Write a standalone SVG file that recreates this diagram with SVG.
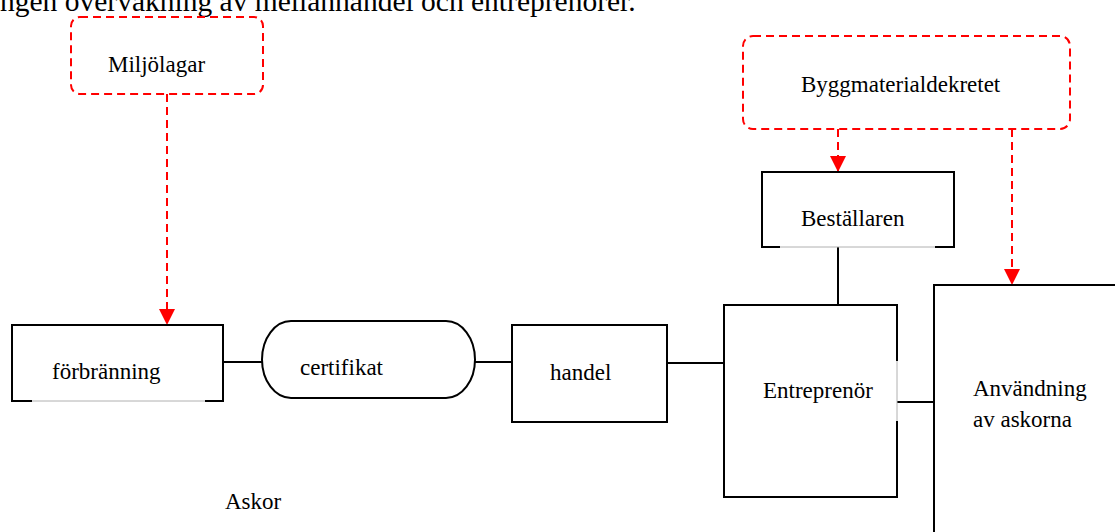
<svg xmlns="http://www.w3.org/2000/svg" width="1115" height="532" viewBox="0 0 1115 532">
  <style>
    text { font-family: "Liberation Serif", "Times New Roman", serif; font-size: 23px; fill: #000; }
    .title { font-size: 29.5px; }
    .box { fill: #fff; stroke: #000; stroke-width: 2; }
    .thin { stroke: #b0b0b0; stroke-width: 1; fill: none; }
    .law { fill: #fff; stroke: #ff0000; stroke-width: 2; stroke-dasharray: 8 5; }
    .link { stroke: #000; stroke-width: 2; fill: none; }
    .dep { stroke: #ff0000; stroke-width: 2; stroke-dasharray: 8 5; fill: none; }
  </style>
  <defs>
    <marker id="redArrow" viewBox="0 0 16 16" markerWidth="16" markerHeight="16" refX="16" refY="8" orient="auto" markerUnits="userSpaceOnUse">
      <path d="M0,0 L16,8 L0,16 Z" fill="#ff0000"/>
    </marker>
  </defs>

  <text class="title" x="0" y="11">ngen övervakning av mellanhandel och entreprenörer.</text>

  <!-- connectors -->
  <g id="connectors">
    <line class="link" x1="223" y1="362" x2="262" y2="362"/>
    <line class="link" x1="475" y1="362" x2="512" y2="362"/>
    <line class="link" x1="667" y1="363" x2="724" y2="363"/>
    <line class="link" x1="838" y1="247" x2="838" y2="305"/>
    <line class="link" x1="897" y1="402" x2="934" y2="402"/>
    <line class="dep" x1="167" y1="94" x2="167" y2="325" marker-end="url(#redArrow)"/>
    <line class="dep" x1="838" y1="129" x2="838" y2="172" marker-end="url(#redArrow)"/>
    <line class="dep" x1="1012" y1="129" x2="1012" y2="285" marker-end="url(#redArrow)"/>
  </g>

  <g id="miljolagar">
    <rect class="law" x="71" y="17" width="192" height="77" rx="9"/>
    <text x="108" y="72">Miljölagar</text>
  </g>

  <g id="byggmaterialdekretet">
    <rect class="law" x="743" y="36" width="327" height="93" rx="10"/>
    <text x="801" y="92">Byggmaterialdekretet</text>
  </g>

  <g id="forbranning">
    <path class="box" d="M32,401 L12,401 L12,325 L223,325 L223,401 L205,401"/>
    <line class="thin" x1="32" y1="401" x2="205" y2="401"/>
    <text x="52" y="379">förbränning</text>
  </g>

  <g id="certifikat">
    <path class="box" d="M291,321 L446,321 A29,38.5 0 0 1 446,398 L291,398 A29,38.5 0 0 1 291,321 Z"/>
    <text x="300" y="375">certifikat</text>
  </g>

  <g id="handel">
    <rect class="box" x="512" y="325" width="155" height="97"/>
    <text x="550" y="380">handel</text>
  </g>

  <g id="bestallaren">
    <path class="box" d="M780,247 L762,247 L762,172 L954,172 L954,247 L935,247"/>
    <line class="thin" x1="780" y1="247" x2="935" y2="247"/>
    <text x="801" y="226">Beställaren</text>
  </g>

  <g id="entreprenor">
    <path class="box" d="M897,361 L897,305 L724,305 L724,497 L897,497 L897,421"/>
    <line class="thin" x1="897" y1="361" x2="897" y2="421"/>
    <text x="763" y="398">Entreprenör</text>
  </g>

  <g id="anvandning">
    <path class="box" d="M1117,285 L934,285 L934,534"/>
    <text x="973" y="396">Användning</text>
    <text x="973" y="427">av askorna</text>
  </g>

  <g id="askor">
    <text x="225" y="509">Askor</text>
  </g>
</svg>
